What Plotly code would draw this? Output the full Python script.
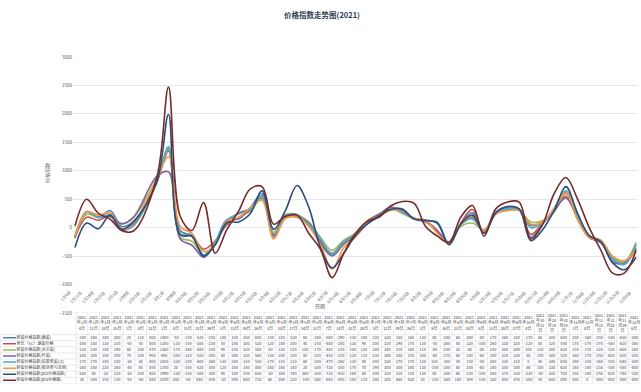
import plotly.graph_objects as go
from datetime import datetime, timedelta

# ---------------- data ----------------
dates = ["2021-01-04", "2021-01-11", "2021-01-18", "2021-01-25", "2021-02-01", "2021-02-08",
         "2021-02-22", "2021-03-01", "2021-03-08", "2021-03-15", "2021-03-22", "2021-03-29",
         "2021-04-05", "2021-04-12", "2021-04-19", "2021-04-26", "2021-05-03", "2021-05-10",
         "2021-05-17", "2021-05-24", "2021-05-31", "2021-06-07", "2021-06-14", "2021-06-21",
         "2021-06-28", "2021-07-05", "2021-07-12", "2021-07-19", "2021-07-26", "2021-08-02",
         "2021-08-09", "2021-08-16", "2021-08-23", "2021-08-30", "2021-09-06", "2021-09-13",
         "2021-09-20", "2021-09-27", "2021-10-04", "2021-10-11", "2021-10-18", "2021-10-25",
         "2021-11-01", "2021-11-08", "2021-11-15", "2021-11-22", "2021-11-29", "2021-12-06"]

tick_dates = ["2021-01-04", "2021-01-11", "2021-01-18", "2021-01-25", "2021-02-01", "2021-02-08",
              "2021-02-15", "2021-02-22", "2021-03-01", "2021-03-08", "2021-03-15", "2021-03-22",
              "2021-03-29", "2021-04-05", "2021-04-12", "2021-04-19", "2021-04-26", "2021-05-03",
              "2021-05-10", "2021-05-17", "2021-05-24", "2021-05-31", "2021-06-07", "2021-06-14",
              "2021-06-21", "2021-06-28", "2021-07-05", "2021-07-12", "2021-07-19", "2021-07-26",
              "2021-08-02", "2021-08-09", "2021-08-16", "2021-08-23", "2021-08-30", "2021-09-06",
              "2021-09-13", "2021-09-20", "2021-09-27", "2021-10-04", "2021-10-11", "2021-10-18",
              "2021-10-25", "2021-11-01", "2021-11-08", "2021-11-15", "2021-11-22", "2021-11-29",
              "2021-12-06"]
tick_labels = ["1月4日", "1月11日", "1月18日", "1月25日", "2月1日", "2月8日", "2月15日", "2月22日",
               "3月1日", "3月8日", "3月15日", "3月22日", "3月29日", "4月5日", "4月12日", "4月19日",
               "4月26日", "5月3日", "5月10日", "5月17日", "5月24日", "5月31日", "6月7日", "6月14日",
               "6月21日", "6月28日", "7月5日", "7月12日", "7月19日", "7月26日", "8月2日", "8月9日",
               "8月16日", "8月23日", "8月30日", "9月6日", "9月13日", "9月20日", "9月27日", "10月4日",
               "10月11日", "10月18日", "10月25日", "11月1日", "11月8日", "11月15日", "11月22日",
               "11月29日", "12月6日"]

series_names = ["鲜菜价格指数(蔬菜)", "寿光（SC）蔬菜价格", "鲜菜价格指数(大宗菜)", "鲜菜价格指数(叶菜)",
                "鲜菜价格指数(茄果类菜)(2)", "鲜菜价格指数(根茎类与其他)", "鲜菜价格指数(pcs价格指数)",
                "鲜菜价格指数(pcs价格图)"]

s1 = [-180, 280, 180, 300, 20, 110, 800, 1400, -50, -150, -520, -250, 140, 150, 350, 600, -150, 220, 230, 60,
      -280, -500, -290, -150, 100, 220, 330, 330, 160, 130, 80, -280, 60, 260, -80, 270, 360, 320, -170, 60,
      300, 600, 200, -160, -250, -540, -650, -300]
s2 = [-180, 180, 130, 210, -50, 50, 800, 1350, -110, -150, -380, -230, 50, 180, 300, 520, -120, 180, 200, 40,
      -250, -480, -280, -130, 90, 200, 320, 290, 170, 120, -50, -260, 80, 320, -100, 260, 330, 320, -120, 80,
      320, 550, 170, -170, -270, -560, -620, -380]
s3 = [-130, 230, 180, 190, 60, 180, 870, 1380, -170, -240, -480, -250, 90, 250, 320, 500, -80, 230, 220, 100,
      -170, -400, -220, -100, 120, 240, 340, 250, 160, 110, -80, -250, 20, 80, -40, 250, 300, 300, 100, 120,
      280, 620, 150, -150, -220, -520, -600, -260]
s4 = [-160, 280, 180, 200, 70, 180, 900, 980, -200, -310, -520, -280, 80, 260, 330, 560, -150, 200, 200, 80,
      -220, -450, -250, -120, 110, 230, 360, 280, 150, 100, -60, -270, 60, 180, -60, 240, 320, 330, 40, 100,
      300, 520, 160, -170, -250, -600, -620, -350]
s5 = [-170, 270, 180, 230, -30, 30, 800, 1420, -120, -120, -480, -260, 130, 240, 310, 550, -170, 210, 210, 60,
      -200, -470, -260, -130, 80, 200, 330, 270, 170, 120, 100, -300, 50, 150, -50, 260, 330, 310, 0, 80,
      340, 650, 190, -150, -260, -550, -640, -300]
s6 = [-160, 280, 220, 260, -40, 80, 850, 1250, 20, -100, -420, -300, 120, 180, 350, 480, -200, 160, 180, 20,
      -300, -730, -350, -170, 70, 190, 300, 300, 160, 130, -100, -280, 60, 200, -60, 240, 300, 300, 60, 100,
      330, 620, 140, -180, -230, -500, -580, -400]
s7 = [-350, 80, -20, 220, -30, 100, 800, 1990, -130, -150, -500, -300, 90, 100, 250, 650, -30, 300, 740, 360,
      -350, -710, -450, -140, 60, 200, 320, 320, 150, 130, 80, -300, 60, 220, -100, 260, 370, 330, -230, -40,
      300, 720, 250, -140, -250, -620, -740, -520]
s8 = [30, 500, 250, 150, -50, -60, 880, 2470, 200, -50, 440, -450, -30, 290, 680, 720, 60, 200, 220, -100,
      -380, -880, -450, -100, 110, 180, 380, 460, 430, 20, -150, -260, 180, 390, -150, 330, 450, 450, -200, 50,
      600, 880, 500, 0, -400, -800, -800, -400]

series_values = [s1, s2, s3, s4, s5, s6, s7, s8]
colors = ["#4F81BD", "#C0504D", "#9BBB59", "#8064A2", "#4BACC6", "#F79646", "#2C4D75", "#772C2A"]

# ---------------- layout geometry ----------------
W, H = 641, 392
FONT = "Noto Sans CJK SC"
TXT = "#595959"
GRID = "#e3e7ee"

px_left, px_right = 73, 638
py_top, py_xaxis, py_bottom = 57, 284.5, 313
first_x, last_x = 75, 636

d0 = datetime(2021, 1, 4)
d1 = datetime(2021, 12, 6)
span_days = (d1 - d0).days
px_per_day = (last_x - first_x) / span_days
r0 = d0 - timedelta(days=(first_x - px_left) / px_per_day)
r1 = d1 + timedelta(days=(px_right - last_x) / px_per_day)
x_range = [r0.strftime("%Y-%m-%d %H:%M:%S"), r1.strftime("%Y-%m-%d %H:%M:%S")]

fig = go.Figure()
for name, vals, col in zip(series_names, series_values, colors):
    fig.add_trace(go.Scatter(
        x=dates, y=vals, name=name, mode="lines",
        line=dict(color=col, width=1.6, shape="spline", smoothing=1.0),
        xaxis="x", yaxis="y", showlegend=False, hoverinfo="skip"))
# lower strip of the value axis (-1500 ... -1000)
fig.add_trace(go.Scatter(x=[dates[0]], y=[None], mode="lines", xaxis="x3", yaxis="y3",
                         showlegend=False, hoverinfo="skip"))

# ---------------- data table (below the chart) ----------------
tbl_left, tbl_right = 0, 640
col_w = 11.75
ncol = len(dates)
data_left = tbl_right - ncol * col_w
x2_min = -0.5 - (data_left - tbl_left) / col_w
tbl_top, tbl_bottom = 312, 383.4
row_px = 6.09
hdr_top_units = (337.7 - tbl_top) / row_px
nrow = len(series_names)

def header_text(d):
    dt = datetime.strptime(d, "%Y-%m-%d")
    m, dd = dt.month, dt.day
    if m >= 10 and dd >= 10:
        return f"{dt.year}<br>年{m}<br>月{dd}<br>日"
    return f"{dt.year}<br>年{m}月<br>{dd}日"

cols_idx = list(range(ncol))
fig.add_trace(go.Scatter(
    x=cols_idx, y=[(hdr_top_units + 0.5) / 2] * ncol, mode="text",
    text=[header_text(d) for d in dates],
    textfont=dict(family=FONT, size=4, color="#404040"),
    xaxis="x2", yaxis="y2", showlegend=False, hoverinfo="skip", cliponaxis=False))
cx, cy, ct = [], [], []
for r, vals in enumerate(series_values):
    for c, v in enumerate(vals):
        cx.append(c)
        cy.append(-r)
        ct.append(str(v))
fig.add_trace(go.Scatter(
    x=cx, y=cy, mode="text", text=ct,
    textfont=dict(family=FONT, size=4, color="#404040"),
    xaxis="x2", yaxis="y2", showlegend=False, hoverinfo="skip", cliponaxis=False))
key_a = x2_min + 3 / col_w
key_b = x2_min + 16 / col_w
for r, (name, col) in enumerate(zip(series_names, colors)):
    fig.add_trace(go.Scatter(
        x=[key_a, key_b], y=[-r, -r], mode="lines",
        line=dict(color=col, width=1.5),
        xaxis="x2", yaxis="y2", showlegend=False, hoverinfo="skip"))
fig.add_trace(go.Scatter(
    x=[x2_min + 16.5 / col_w] * nrow, y=[-r for r in range(nrow)], mode="text",
    text=series_names, textposition="middle right",
    textfont=dict(family=FONT, size=4, color="#404040"),
    xaxis="x2", yaxis="y2", showlegend=False, hoverinfo="skip", cliponaxis=False))

BC = "#d5dbe6"
shapes = []
shapes.append(dict(type="line", xref="x2", yref="y2", x0=-0.5, x1=ncol - 0.5,
                   y0=hdr_top_units, y1=hdr_top_units, line=dict(color=BC, width=0.6)))
for k in range(nrow + 1):
    yy = 0.5 - k
    shapes.append(dict(type="line", xref="x2", yref="y2", x0=x2_min, x1=ncol - 0.5,
                       y0=yy, y1=yy, line=dict(color=BC, width=0.6)))
for c in range(ncol + 1):
    xx = c - 0.5
    shapes.append(dict(type="line", xref="x2", yref="y2", x0=xx, x1=xx,
                       y0=-nrow + 0.5, y1=hdr_top_units, line=dict(color=BC, width=0.6)))
shapes.append(dict(type="line", xref="x2", yref="y2", x0=x2_min + 0.05, x1=x2_min + 0.05,
                   y0=-nrow + 0.5, y1=0.5, line=dict(color=BC, width=0.6)))

# rotated date labels of the category axis, placed on the x axis scale
annotations = [
    dict(text=lab, x=td, xref="x", y=1 - 286.5 / H, yref="paper",
         xanchor="right", yanchor="top", textangle=-45, xshift=-1,
         showarrow=False, font=dict(family=FONT, size=4, color=TXT))
    for td, lab in zip(tick_dates, tick_labels)
]
annotations += [
    dict(text="价格指数", x=47 / W, y=1 - 173 / H, xref="paper", yref="paper",
         xanchor="center", yanchor="middle",
         textangle=-90, showarrow=False, font=dict(family=FONT, size=5, color=TXT)),
    dict(text="日期", x=320 / W, y=1 - 305.5 / H, xref="paper", yref="paper",
         xanchor="center", yanchor="middle",
         showarrow=False, font=dict(family=FONT, size=5, color=TXT)),
]

ytick_font = dict(family=FONT, size=4.5, color=TXT)
fig.update_layout(
    template="none",
    width=W, height=H,
    margin=dict(l=0, r=0, t=0, b=0, autoexpand=False),
    paper_bgcolor="white", plot_bgcolor="rgba(0,0,0,0)",
    font=dict(family=FONT, color=TXT),
    title=dict(text="<b>价格指数走势图(2021)</b>", x=322 / W, xanchor="center",
               y=1 - 15 / H, yanchor="middle",
               font=dict(family=FONT, size=7.5, color="#2F3B52")),
    xaxis=dict(
        type="date", domain=[px_left / W, px_right / W], range=x_range,
        anchor="y", automargin=False, tickvals=tick_dates, showticklabels=False,
        showgrid=False, zeroline=False, showline=False, ticks=""),
    yaxis=dict(
        domain=[1 - py_xaxis / H, 1 - py_top / H], range=[-1000, 3000], automargin=False,
        tickvals=[-1000, -500, 0, 500, 1000, 1500, 2000, 2500, 3000],
        tickfont=ytick_font,
        showgrid=True, gridcolor=GRID, gridwidth=0.8, zeroline=False, showline=False,
        ticks="", anchor="x"),
    xaxis3=dict(type="date", domain=[px_left / W, px_right / W], range=x_range,
                anchor="y3", visible=False, automargin=False),
    yaxis3=dict(
        domain=[1 - py_bottom / H, 1 - py_xaxis / H], range=[-1500, -1000], automargin=False,
        tickvals=[-1500], tickfont=ytick_font,
        showgrid=True, gridcolor=GRID, gridwidth=0.8, zeroline=False, showline=False,
        ticks="", anchor="x3"),
    xaxis2=dict(domain=[tbl_left / W, tbl_right / W], range=[x2_min, ncol - 0.5],
                anchor="y2", visible=False, fixedrange=True, automargin=False),
    yaxis2=dict(domain=[1 - tbl_bottom / H, 1 - tbl_top / H],
                range=[-nrow + 0.5, hdr_top_units], anchor="x2", visible=False,
                fixedrange=True, automargin=False),
    shapes=shapes,
    annotations=annotations,
)

fig.write_html("out.html", config={"displayModeBar": False},
               post_script="document.body.style.margin='0';document.body.style.overflow='hidden';")
